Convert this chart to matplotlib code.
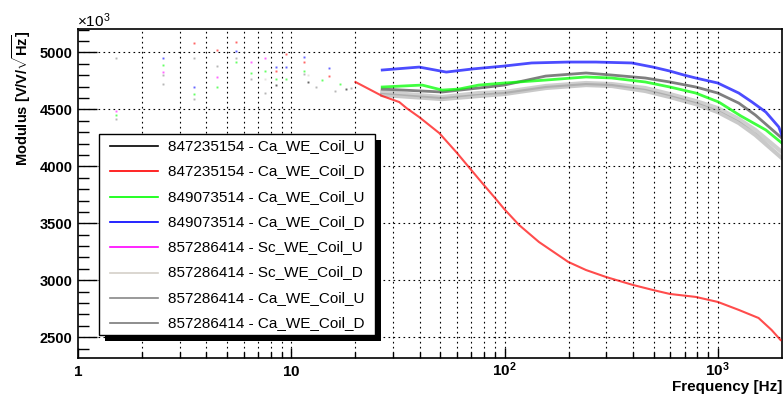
import matplotlib
matplotlib.use("Agg")
import matplotlib.pyplot as plt
from matplotlib.lines import Line2D
from matplotlib.patches import Rectangle
from matplotlib.ticker import FixedLocator, NullFormatter
from matplotlib.transforms import blended_transform_factory

plt.rcParams['font.family'] = ['Liberation Sans', 'DejaVu Sans']
plt.rcParams['mathtext.fontset'] = 'custom'
plt.rcParams['mathtext.rm'] = 'Liberation Sans'
plt.rcParams['mathtext.bf'] = 'Liberation Sans:bold'
plt.rcParams['mathtext.it'] = 'Liberation Sans:italic'

# ---------------- data ----------------
labels = ["847235154 - Ca_WE_Coil_U", "847235154 - Ca_WE_Coil_D",
          "849073514 - Ca_WE_Coil_U", "849073514 - Ca_WE_Coil_D",
          "857286414 - Sc_WE_Coil_U", "857286414 - Sc_WE_Coil_D",
          "857286414 - Ca_WE_Coil_U", "857286414 - Ca_WE_Coil_D"]
colors = ["#000000", "#ff0000", "#00ff00", "#0000ff",
          "#ff00ff", "#d4d0c8", "#888888", "#7a7a7a"]

# dense parts (Hz, modulus)
f_black = [26.7, 51, 75.6, 99.6, 156, 241, 318, 457, 596, 788, 1000, 1254, 1500, 1995]
v_black = [4678, 4652, 4687, 4713, 4792, 4819, 4801, 4775, 4740, 4696, 4643, 4555, 4450, 4248]

f_red = [20, 26.7, 32.1, 34.7, 39.8, 49.4, 59.3, 69.8, 78.5, 89.4, 99.6, 117, 145, 199,
         241, 299, 400, 496, 596, 788, 1000, 1254, 1553, 1787, 1969]
v_red = [4740, 4617, 4564, 4511, 4432, 4292, 4126, 3968, 3854, 3731, 3626, 3485, 3336, 3161,
         3090, 3029, 2959, 2915, 2880, 2854, 2810, 2740, 2669, 2564, 2476]

f_green = [26.7, 41.1, 51.0, 61.1, 75.6, 99.6, 156, 241, 318, 457, 596, 788, 1010, 1285, 1680, 1995]
v_green = [4696, 4713, 4669, 4678, 4713, 4731, 4757, 4784, 4775, 4740, 4696, 4643, 4564, 4441, 4319, 4205]

f_blue = [26.7, 39.8, 53.3, 70.5, 99.6, 134, 199, 268, 395, 496, 596, 694, 788, 1000,
          1254, 1447, 1680, 1932, 1995]
v_blue = [4845, 4871, 4827, 4854, 4880, 4907, 4915, 4915, 4907, 4871, 4836, 4801, 4775, 4731,
          4643, 4564, 4476, 4345, 4275]

f_gray1 = [26.7, 51, 75.6, 99.6, 156, 241, 318, 457, 596, 788, 1000, 1254, 1500, 1995]
v_gray1 = [4652, 4608, 4643, 4652, 4705, 4731, 4722, 4687, 4634, 4573, 4511, 4415, 4319, 4126]

f_gray2 = [26.7, 51, 75.6, 99.6, 156, 241, 318, 457, 596, 788, 1000, 1254, 1500, 1995]
v_gray2 = [4626, 4590, 4617, 4634, 4687, 4713, 4705, 4661, 4608, 4546, 4476, 4380, 4275, 4073]

# sparse low-frequency points
f_blue_low = [2.5, 3.49, 5.49, 8.45, 9.4, 11.5, 15]
v_blue_low = [4950, 4696, 5011, 4871, 4871, 4959, 4860]
f_green_low = [1.51, 2.5, 3.49, 4.47, 5.49, 6.45, 7.5, 8.45, 9.4, 11.5, 14, 17]
v_green_low = [4450, 4889, 4634, 4696, 4915, 4818, 4836, 4766, 4766, 4836, 4760, 4720]
f_red_low = [3.49, 4.47, 5.49, 8.45, 9.4, 11.5, 15]
v_red_low = [5082, 5020, 5090, 4836, 4985, 4915, 4790]
f_gray_low = [1.51, 1.51, 2.5, 2.5, 3.49, 3.49, 4.47, 5.49, 6.45, 7.5, 11.5, 13, 16, 19]
v_gray_low = [4950, 4415, 4801, 4722, 4950, 4590, 4880, 4950, 4766, 4643, 4810, 4700, 4660, 4690]
f_black_low = [8.45, 12, 18]
v_black_low = [4713, 4740, 4680]
f_mag_low = [1.51, 2.5, 4.47, 6.45, 7.5]
v_mag_low = [4485, 4827, 4783, 4915, 4950]
f_beige_low = [7.5, 12]
v_beige_low = [4766, 4800]

x_ticks = [1, 10, 100, 1000]
x_ticklabels = [r"$\mathbf{1}$", r"$\mathbf{10}$", r"$\mathbf{10^{2}}$", r"$\mathbf{10^{3}}$"]
y_ticks = [2500, 3000, 3500, 4000, 4500, 5000]

# ---------------- figure ----------------
W, H = 783, 394
fig = plt.figure(figsize=(W / 100, H / 100), dpi=100)

def fx(px):
    return px / W

def fy(py):
    return 1 - py / H

ax = fig.add_axes([fx(78), fy(358), fx(782) - fx(78), fy(29) - fy(358)])
ax.set_xscale('log')
ax.set_xlim(1, 2000)
ax.set_ylim(2318, 5205)

# grid
minor_x = [m * 10 ** d for d in range(0, 4) for m in range(2, 10) if m * 10 ** d < 2000]
grid_kw = dict(color='black', lw=0.8, ls=(0, (1.5, 3)), zorder=0.5)
for xv in x_ticks[1:] + minor_x:
    ax.axvline(xv, **grid_kw)
for yv in y_ticks:
    ax.axhline(yv, **grid_kw)

# data
ax.plot(f_gray2, v_gray2, color=colors[7], lw=3.0, alpha=0.4, zorder=2)
ax.plot(f_gray1, v_gray1, color=colors[6], lw=3.0, alpha=0.4, zorder=2)
ax.plot(f_black, v_black, color=colors[0], lw=2.0, alpha=0.5, zorder=2.2)
ax.plot(f_green, v_green, color=colors[2], lw=2.0, alpha=0.75, zorder=2.4)
ax.plot(f_blue, v_blue, color=colors[3], lw=2.0, alpha=0.7, zorder=2.5)
ax.plot(f_red, v_red, color=colors[1], lw=1.5, alpha=0.7, zorder=2.6)

dot = dict(ls='none', marker='s', ms=1.4, mew=0, alpha=0.6, zorder=2)
ax.plot(f_gray_low, v_gray_low, color=colors[6], **dot)
ax.plot(f_black_low, v_black_low, color=colors[0], **dot)
ax.plot(f_green_low, v_green_low, color=colors[2], **dot)
ax.plot(f_blue_low, v_blue_low, color=colors[3], **dot)
ax.plot(f_red_low, v_red_low, color=colors[1], **dot)
ax.plot(f_mag_low, v_mag_low, color=colors[4], **dot)
ax.plot(f_beige_low, v_beige_low, color=colors[5], **dot)

# ticks
ax.xaxis.set_major_locator(FixedLocator(x_ticks))
ax.xaxis.set_minor_locator(FixedLocator(minor_x))
ax.xaxis.set_minor_formatter(NullFormatter())
ax.xaxis.set_major_formatter(NullFormatter())
ax.yaxis.set_major_locator(FixedLocator(y_ticks))
ax.yaxis.set_minor_locator(FixedLocator([v for v in range(2400, 5201, 100) if v % 500]))
ax.tick_params(axis='both', which='both', direction='in', top=False, right=False, width=1.0)
ax.tick_params(axis='y', which='major', length=14, labelsize=10.5, pad=4)
ax.tick_params(axis='y', which='minor', length=8)
ax.tick_params(axis='x', which='major', length=7)
ax.tick_params(axis='x', which='minor', length=4)
for lab in ax.get_yticklabels():
    lab.set_fontweight('bold')
for sp in ax.spines.values():
    sp.set_linewidth(1.2)

# x tick labels placed on a common baseline
trans = blended_transform_factory(ax.transData, fig.transFigure)
for xv, lab in zip(x_ticks, x_ticklabels):
    ax.text(xv, fy(376), lab, transform=trans, ha='center', va='baseline',
            fontsize=11, clip_on=False)

# axis titles
fig.text(fx(782), fy(391), "Frequency [Hz]", ha='right', va='baseline',
         fontsize=11, fontweight='bold')
fig.text(fx(22), fy(30), r"$\mathbf{Modulus\ [V/V/\sqrt{Hz}]}$", rotation=90,
         ha='center', va='top', fontsize=10.5)
fig.text(fx(77), fy(27), r"$\times10^{3}$", ha='left', va='baseline', fontsize=11)

# legend (manual, ROOT style with shadow)
lx0, ly0, lx1, ly1 = 99, 134, 375, 335
sh = 6
fig.add_artist(Rectangle((fx(lx0 + sh), fy(ly1 + sh)), fx(lx1 - lx0), fy(ly0) - fy(ly1),
                         transform=fig.transFigure, facecolor='black', edgecolor='none', zorder=5))
fig.add_artist(Rectangle((fx(lx0), fy(ly1)), fx(lx1 - lx0), fy(ly0) - fy(ly1),
                         transform=fig.transFigure, facecolor='white', edgecolor='black',
                         lw=1.0, zorder=6))
for i, (lab, col) in enumerate(zip(labels, colors)):
    yc = 146 + i * 25.3
    fig.add_artist(Line2D([fx(110), fx(158)], [fy(yc), fy(yc)], color=col, lw=1.2,
                          transform=fig.transFigure, zorder=7))
    fig.text(fx(168), fy(yc), lab, ha='left', va='center', fontsize=11, zorder=7)

fig.savefig("out.png", dpi=100)
